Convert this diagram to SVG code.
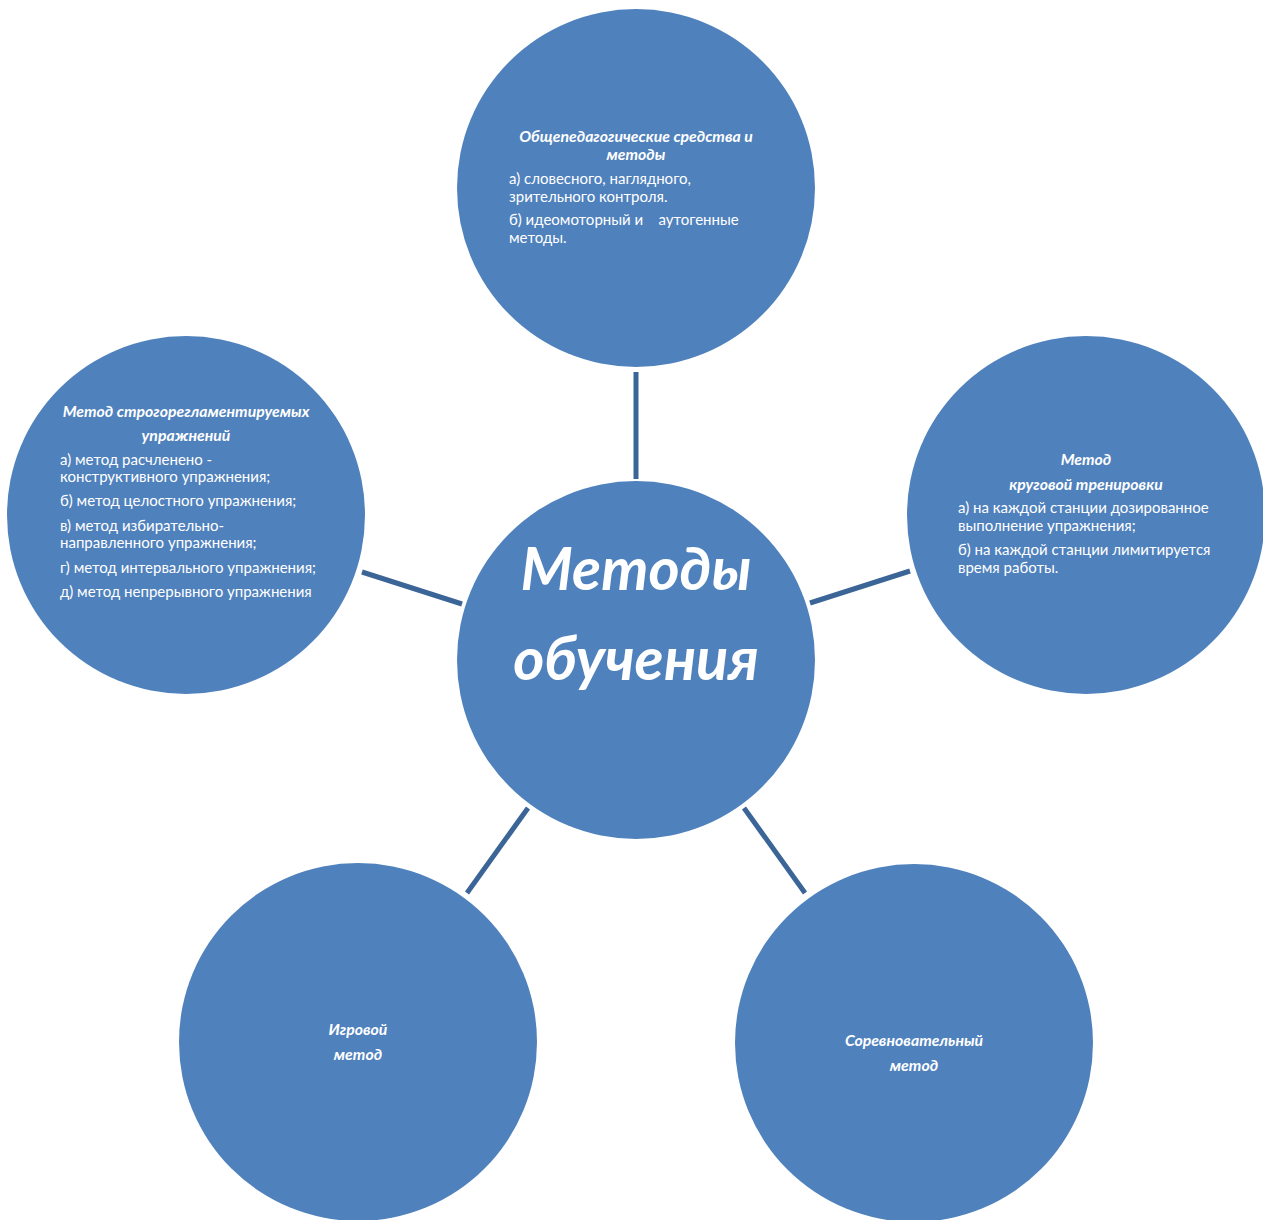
<svg xmlns="http://www.w3.org/2000/svg" width="1263" height="1220" viewBox="0 0 1263 1220">
<style>
.n{fill:#4F81BD}
.c{stroke:#3B6497;stroke-width:5;fill:none}
text{fill:#fff;font-family:Lato,"Open Sans","Liberation Sans",sans-serif}
.t{font-weight:bold;font-style:italic;font-size:15.8px;text-anchor:middle}
.b{font-size:15px}
.big{font-weight:bold;font-style:italic;font-size:59.6px;text-anchor:middle}
</style>
<rect width="1263" height="1220" fill="#fff"/>
<g id="connectors">
<line class="c" x1="636" y1="372" x2="636" y2="479"/>
<line class="c" x1="362" y1="572" x2="462" y2="604"/>
<line class="c" x1="810" y1="603" x2="910" y2="571"/>
<line class="c" x1="528" y1="808" x2="467" y2="893"/>
<line class="c" x1="744" y1="808" x2="805" y2="893"/>
</g>
<g id="center">
<circle class="n" cx="636" cy="660" r="179"/>
<text class="big" x="636" y="590">Методы</text>
<text class="big" x="636" y="680">обучения</text>
</g>
<g id="top">
<circle class="n" cx="636" cy="188" r="179"/>
<text class="t" x="636" y="142">Общепедагогические средства и</text>
<text class="t" x="636" y="160">методы</text>
<text class="b" x="509" y="184">а) словесного, наглядного,</text>
<text class="b" x="509" y="202">зрительного контроля.</text>
<text class="b" x="509" y="225" xml:space="preserve">б) идеомоторный и    аутогенные</text>
<text class="b" x="509" y="243">методы.</text>
</g>
<g id="left">
<circle class="n" cx="186" cy="515" r="179"/>
<text class="t" x="186" y="417">Метод строгорегламентируемых</text>
<text class="t" x="186" y="441">упражнений</text>
<text class="b" x="60" y="465">а) метод расчленено -</text>
<text class="b" x="60" y="482">конструктивного упражнения;</text>
<text class="b" x="60" y="506">б) метод целостного упражнения;</text>
<text class="b" x="60" y="531">в) метод избирательно-</text>
<text class="b" x="60" y="548">направленного упражнения;</text>
<text class="b" x="60" y="573">г) метод интервального упражнения;</text>
<text class="b" x="60" y="597">д) метод непрерывного упражнения</text>
</g>
<g id="right">
<circle class="n" cx="1086" cy="515" r="179"/>
<text class="t" x="1086" y="465">Метод</text>
<text class="t" x="1086" y="490">круговой тренировки</text>
<text class="b" x="958" y="513">а) на каждой станции дозированное</text>
<text class="b" x="958" y="531">выполнение упражнения;</text>
<text class="b" x="958" y="555">б) на каждой станции лимитируется</text>
<text class="b" x="958" y="573">время работы.</text>
</g>
<g id="bottom-left">
<circle class="n" cx="358" cy="1042" r="179"/>
<text class="t" x="358" y="1035">Игровой</text>
<text class="t" x="358" y="1060">метод</text>
</g>
<g id="bottom-right">
<circle class="n" cx="914" cy="1043" r="179"/>
<text class="t" x="914" y="1046">Соревновательный</text>
<text class="t" x="914" y="1071">метод</text>
</g>
</svg>
